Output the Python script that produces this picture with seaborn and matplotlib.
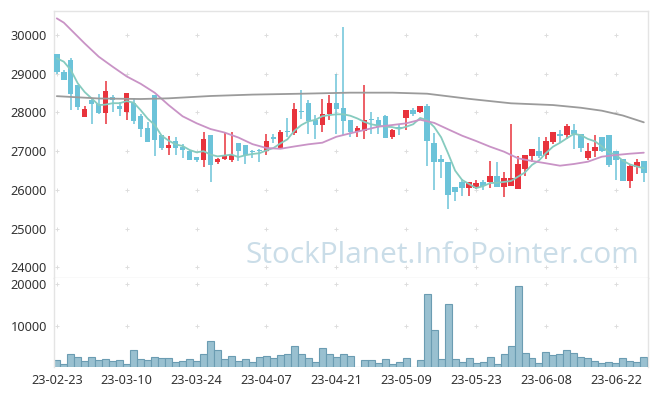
import numpy as np
import pandas as pd
import matplotlib
matplotlib.use("Agg")
import matplotlib.pyplot as plt
import seaborn as sns

# daily candles, 23-02-23 .. 23-06-28 (85 trading days)
opens = [29500, 29040, 29350, 28700, 27890, 28320, 28230, 27990, 28400, 28160,
         28000, 28240, 27900, 27600, 28450, 27410, 27090, 27260, 27110, 27010,
         26850, 26780, 27410, 26720, 26790, 26780, 27210, 27150, 26980, 27010,
         26990, 27360, 27090, 27500, 27480, 28020, 28240, 27800, 27680, 27950,
         28240, 28110, 27800, 27490, 27530, 27800, 27800, 27910, 27360, 27600,
         27850, 28060, 28000, 28170, 27200, 26800, 26720, 26070, 26200, 26040,
         26040, 26190, 26190, 26350, 26080, 26090, 26030, 26550, 26880, 27000,
         26890, 27240, 27450, 27420, 27550, 27430, 26830, 26990, 27360, 27410,
         27000, 26800, 26240, 26600, 26740]
closes = [29040, 28850, 28480, 28150, 28100, 28220, 27990, 28550, 28330, 28100,
          28490, 27790, 27580, 27240, 27290, 27090, 27160, 27090, 27030, 26780,
          26780, 27310, 26650, 26800, 26890, 26900, 26990, 26890, 26960, 26990,
          27260, 27300, 27490, 27480, 28100, 28000, 27780, 27680, 27950, 28240,
          28100, 27790, 27490, 27600, 27800, 27780, 27630, 27350, 27540, 27580,
          28050, 27950, 28160, 27250, 26710, 26710, 25860, 25950, 26040, 26190,
          26180, 26110, 26350, 26080, 26300, 26300, 26670, 26900, 27050, 26870,
          27260, 27490, 27400, 27650, 27430, 27090, 27000, 27100, 26990, 26650,
          26780, 26240, 26620, 26720, 26440]
highs = [29500, 29100, 29400, 28720, 28160, 28350, 28470, 28800, 28460, 28260,
         28500, 28360, 27950, 27740, 28460, 27420, 27400, 27360, 27180, 27020,
         26860, 27490, 27410, 26830, 27490, 27490, 27220, 27160, 27040, 27060,
         27440, 27440, 27540, 27860, 28240, 28590, 28330, 27940, 28350, 28450,
         28990, 30200, 27810, 27640, 28700, 28000, 27870, 27920, 27560, 27690,
         28060, 28110, 28170, 28210, 27460, 26890, 26730, 26080, 26280, 26200,
         26260, 26250, 26740, 26720, 26460, 27690, 26870, 26910, 27060, 27360,
         27360, 27500, 27550, 27710, 27700, 27440, 27200, 27410, 27360, 27420,
         27010, 26800, 26630, 26790, 26750]
lows = [29000, 28850, 28050, 28060, 27890, 27700, 27960, 27690, 28000, 27900,
        27800, 27690, 27360, 27230, 26880, 27030, 26900, 26890, 26830, 26770,
        26720, 26600, 26200, 26660, 26780, 26720, 26740, 26660, 26810, 26720,
        26900, 27200, 27080, 27360, 27410, 27840, 27450, 27300, 27490, 27800,
        27440, 27420, 27360, 27360, 27300, 27430, 27430, 27340, 27300, 27420,
        27540, 27900, 27990, 26620, 25990, 26310, 25500, 25710, 25850, 25850,
        26030, 25990, 26040, 26080, 25810, 26090, 26020, 26360, 26730, 26820,
        26790, 27190, 27220, 27310, 27050, 26980, 26770, 26840, 26980, 26600,
        26250, 26230, 26040, 26410, 26190]
volumes = [1760, 720, 3120, 2400, 1440, 2400, 1760, 1920, 1520, 1760,
           720, 4080, 1920, 1760, 2400, 2160, 2160, 1280, 1520, 1920,
           1520, 3120, 6240, 4080, 1920, 2640, 1520, 1920, 1280, 2400,
           2640, 2160, 2880, 3120, 5040, 3120, 2160, 1280, 4560, 3120,
           2400, 3120, 2640, 160, 1680, 1680, 960, 1920, 720, 1200,
           2160, 160, 1680, 17520, 8880, 1920, 15120, 1920, 1200, 2160,
           960, 1200, 2400, 720, 3120, 5040, 19440, 3360, 2160, 960,
           3600, 2880, 3120, 4080, 3360, 2400, 2160, 1440, 960, 1200,
           960, 2160, 1440, 1200, 2400]

# short moving average (5 day)
ma_short = [29398, 29311, 29096, 28752, 28524, 28360, 28188, 28202, 28238, 28238,
            28292, 28252, 28058, 27840, 27678, 27398, 27272, 27174, 27132, 27030,
            26968, 26998, 26910, 26864, 26886, 26910, 26846, 26894, 26926, 26946,
            27018, 27080, 27200, 27304, 27526, 27674, 27770, 27808, 27902, 27930,
            27950, 27952, 27914, 27844, 27756, 27692, 27660, 27632, 27620, 27576,
            27630, 27694, 27856, 27798, 27624, 27356, 26938, 26496, 26254, 26150,
            26044, 26094, 26174, 26182, 26204, 26228, 26340, 26450, 26644, 26758,
            26950, 27114, 27214, 27334, 27446, 27412, 27314, 27254, 27122, 26966,
            26904, 26752, 26656, 26602, 26560]

# mid moving average, read at these days
ma_mid_day = [0, 1, 2, 4, 6, 8, 10, 12, 14, 16, 18, 20, 22, 24, 26, 28, 30, 32, 34,
              36, 38, 40, 42, 44, 46, 48, 50, 52, 54, 56, 58, 60, 62, 64, 66, 68,
              70, 72, 74, 76, 78, 80, 82, 84]
ma_mid = [30430, 30320, 30140, 29780, 29440, 29180, 28930, 28740, 28510, 28190,
          27900, 27720, 27570, 27480, 27350, 27180, 27080, 27060, 27120, 27176,
          27217, 27370, 27460, 27545, 27630, 27674, 27718, 27810, 27730, 27563,
          27398, 27261, 27114, 26985, 26814, 26744, 26685, 26623, 26667, 26726,
          26856, 26899, 26933, 26959]

# long moving average, read at these days
ma_long_day = [0, 6, 12, 16, 22, 28, 35, 42, 48, 53, 59, 65, 71, 75, 78, 81, 84]
ma_long = [28420, 28360, 28346, 28364, 28424, 28460, 28483, 28510, 28510, 28483,
           28350, 28235, 28190, 28120, 28044, 27920, 27744]

tick_days = [0, 10, 20, 30, 40, 50, 60, 70, 80]
tick_labels = ['23-02-23', '23-03-10', '23-03-24', '23-04-07', '23-04-21',
               '23-05-09', '23-05-23', '23-06-08', '23-06-22']
price_ticks = [24000, 25000, 26000, 27000, 28000, 29000, 30000]
vol_ticks = [10000, 20000]

df = pd.DataFrame({"day": np.arange(len(closes)), "open": opens, "close": closes,
                   "high": highs, "low": lows, "volume": volumes})
up_col = "#e8333c"
down_col = "#6cc3d9"
df["color"] = np.where(df["close"] > df["open"], up_col, down_col)

sns.set_style("white")
plt.rcParams['font.family'] = ['Noto Sans', 'DejaVu Sans']

fig = plt.figure(figsize=(6.57, 3.96), dpi=100)
W, H = 657, 396
ax = fig.add_axes([54 / W, 1 - 278 / H, 594 / W, 267.3 / H])
axv = fig.add_axes([54 / W, 1 - 367.3 / H, 594 / W, 89.3 / H])

xlim = (-0.4, 84.6)
grid_col = "#dddddd"
frame_col = "#e4e4e4"

# grid crosses
gx, gy = np.meshgrid(tick_days, price_ticks)
ax.scatter(gx.ravel(), gy.ravel(), marker='+', s=9, color=grid_col, lw=0.7, zorder=0)
gx, gy = np.meshgrid(tick_days, vol_ticks)
axv.scatter(gx.ravel(), gy.ravel(), marker='+', s=9, color=grid_col, lw=0.7, zorder=0)

# watermark
ax.text(0.653, 0.085, "StockPlanet.InfoPointer.com", transform=ax.transAxes,
        ha='center', va='center', fontsize=21.5, color="#cadde8",
        family=['Open Sans', 'DejaVu Sans'], zorder=1)

# candles
ax.vlines(df["day"], df["low"], df["high"], colors=df["color"], lw=1.1, zorder=2)
body = (df["close"] - df["open"]).where(lambda s: s.abs() > 20, 20)
ax.bar(df["day"], body, bottom=df["open"], width=0.78, color=df["color"],
       linewidth=0, zorder=3)

# moving averages
sns.lineplot(x=df["day"], y=ma_short, ax=ax, color="#86cbbf", lw=1.3, zorder=4)
sns.lineplot(x=ma_mid_day, y=ma_mid, ax=ax, color="#c993c6", lw=1.3, zorder=4)
sns.lineplot(x=ma_long_day, y=ma_long, ax=ax, color="#9b9b9b", lw=1.3, zorder=4)

ax.set_xlim(*xlim)
ax.set_ylim(23721, 30628)
ax.set_yticks(price_ticks)
ax.set_yticklabels([str(t) for t in price_ticks])
ax.set_xticks([])
ax.set_xlabel("")
ax.set_ylabel("")

# volume
sns.barplot(x=df["day"], y=df["volume"], native_scale=True, ax=axv, width=1.0,
            color="#99c0d0", edgecolor="#6b9cb2", linewidth=0.8, saturation=1)
axv.set_xlim(*xlim)
axv.set_ylim(0, 21415)
axv.set_yticks(vol_ticks)
axv.set_yticklabels([str(t) for t in vol_ticks])
axv.set_xticks(tick_days)
axv.set_xticklabels(tick_labels)
axv.set_xlabel("")
axv.set_ylabel("")

for a in (ax, axv):
    for s in a.spines.values():
        s.set_color(frame_col)
        s.set_linewidth(1.0)
    a.tick_params(length=0, labelsize=9.2, colors="#333333", pad=5)
axv.spines['top'].set_visible(False)
axv.spines['bottom'].set_visible(False)

fig.savefig("out.png", dpi=100, facecolor="white")
